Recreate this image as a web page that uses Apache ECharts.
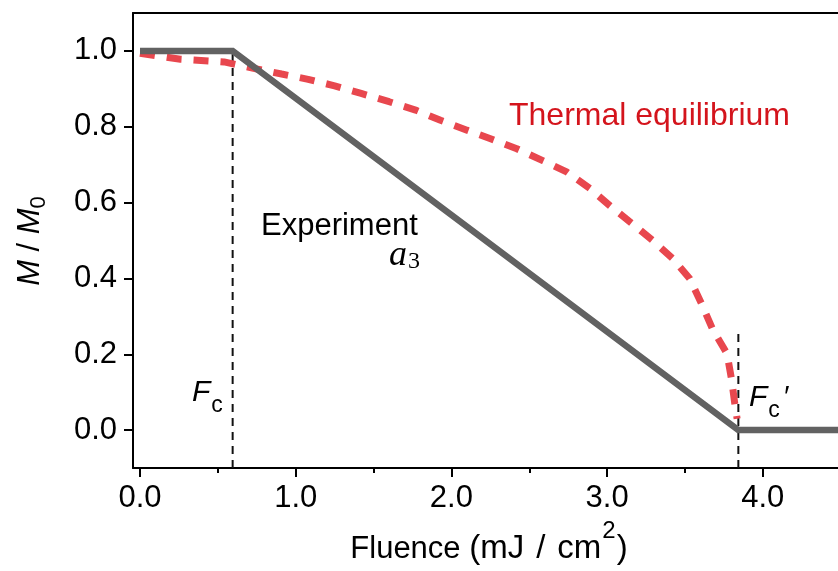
<!DOCTYPE html>
<html>
<head>
<meta charset="utf-8">
<script src="https://cdn.jsdelivr.net/npm/echarts@6/dist/echarts.min.js"></script>
<style>html,body{margin:0;padding:0;background:#fff}#c{width:838px;height:571px}</style>
</head>
<body>
<div id="c"></div>
<script>
// ---- data ----
const xMajorTicks = [0, 1, 2, 3, 4];
const xMinorTicks = [0.5, 1.5, 2.5, 3.5, 4.5];
const yTicks = [0, 0.2, 0.4, 0.6, 0.8, 1.0];
const Fc = 0.595;
const FcPrime = 3.843;
const FcPrimeTop = 0.26;
const experimentX = [0, Fc, FcPrime, 4.6];
const experimentY = [1.0, 1.0, 0.0, 0.0];
const thermalX = [0, 0.26, 0.54, 0.73, 0.91, 1.08, 1.25, 1.42, 1.6, 1.77, 1.93, 2.1, 2.26, 2.42, 2.59, 2.74, 2.89, 3.02, 3.16, 3.29, 3.42, 3.53, 3.61, 3.68, 3.77, 3.80, 3.82, 3.835];
const thermalY = [0.994, 0.978, 0.971, 0.954, 0.939, 0.925, 0.908, 0.888, 0.866, 0.844, 0.817, 0.791, 0.767, 0.742, 0.71, 0.681, 0.637, 0.591, 0.545, 0.501, 0.453, 0.40, 0.33, 0.264, 0.202, 0.132, 0.07, 0.03];

const XMIN = -0.045, XMAX = 4.483, YMIN = -0.1, YMAX = 1.1;
const FONT = '"Liberation Sans", Arial, Helvetica, sans-serif';
const SERIF = '"Liberation Serif", "DejaVu Serif", serif';

const zip = (a, b) => a.map((v, i) => [v, b[i]]);
const fmt = v => Number(v).toFixed(1);

const chart = echarts.init(document.getElementById('c'), null, {renderer: 'canvas'});
const axisLineStyle = {color: '#000', width: 2};

const option = {
  animation: false,
  backgroundColor: '#fff',
  grid: {left: 133, right: 0, top: 13, bottom: 103, containLabel: false},
  xAxis: [
    {
      type: 'value', min: XMIN, max: XMAX, position: 'bottom',
      axisLine: {show: true, onZero: false, lineStyle: axisLineStyle},
      axisTick: {show: true, customValues: xMajorTicks, length: 9, lineStyle: axisLineStyle},
      axisLabel: {show: true, customValues: xMajorTicks, formatter: fmt, fontSize: 31, fontFamily: FONT, color: '#000', margin: 15},
      splitLine: {show: false}
    },
    {
      type: 'value', min: XMIN, max: XMAX, position: 'bottom',
      axisLine: {show: false, onZero: false},
      axisTick: {show: true, customValues: xMinorTicks, length: 5, lineStyle: axisLineStyle},
      axisLabel: {show: false},
      splitLine: {show: false}
    },
    {
      type: 'value', min: XMIN, max: XMAX, position: 'top',
      axisLine: {show: true, onZero: false, lineStyle: axisLineStyle},
      axisTick: {show: false},
      axisLabel: {show: false},
      splitLine: {show: false}
    }
  ],
  yAxis: {
    type: 'value', min: YMIN, max: YMAX,
    axisLine: {show: true, onZero: false, lineStyle: axisLineStyle},
    axisTick: {show: true, customValues: yTicks, length: 9, lineStyle: axisLineStyle},
    axisLabel: {show: true, customValues: yTicks, formatter: fmt, fontSize: 31, fontFamily: FONT, color: '#000', margin: 16},
    splitLine: {show: false}
  },
  series: [
    {
      type: 'line', name: 'Fc', xAxisIndex: 0, symbol: 'none', z: 1,
      data: [[Fc, YMIN], [Fc, 1.0]],
      lineStyle: {color: '#111', width: 2, type: [8, 6]}
    },
    {
      type: 'line', name: 'FcPrime', xAxisIndex: 0, symbol: 'none', z: 1,
      data: [[FcPrime, YMIN], [FcPrime, FcPrimeTop]],
      lineStyle: {color: '#111', width: 2, type: [8, 6]}
    },
    {
      type: 'line', name: 'Experiment', xAxisIndex: 0, symbol: 'none', z: 3,
      data: zip(experimentX, experimentY),
      lineStyle: {color: '#626262', width: 6.5, cap: 'butt', join: 'miter'}
    },
    {
      type: 'line', name: 'Thermal equilibrium', xAxisIndex: 0, symbol: 'none', z: 2,
      data: zip(thermalX, thermalY),
      lineStyle: {color: '#e8474e', width: 7, type: [15, 12], cap: 'butt'}
    }
  ],
  graphic: [
    {
      type: 'text', x: 30, y: 241, rotation: Math.PI / 2, z: 10,
      style: {
        text: '{i|M} / {i|M}{s|0}',
        align: 'center', verticalAlign: 'middle',
        font: '31px ' + FONT, fill: '#000',
        rich: {
          i: {fontStyle: 'italic', fontSize: 31, fontFamily: FONT, lineHeight: 31, verticalAlign: 'middle'},
          s: {fontSize: 22, fontFamily: FONT, lineHeight: 22, padding: [18, 0, 0, 0], verticalAlign: 'middle'}
        }
      }
    },
    {
      type: 'text', x: 489, y: 549, z: 10,
      style: {
        text: 'Fluence {t|(mJ}{sl|/}{t|cm}{s|2}{t|)}',
        align: 'center', verticalAlign: 'middle',
        font: '31px ' + FONT, fill: '#000',
        rich: {
          t: {fontSize: 33, fontFamily: FONT, lineHeight: 33, verticalAlign: 'middle'},
          sl: {fontSize: 33, fontFamily: FONT, lineHeight: 33, padding: [0, 12, 0, 12], verticalAlign: 'middle'},
          s: {fontSize: 24, fontFamily: FONT, lineHeight: 24, padding: [0, 1, 35, 1], verticalAlign: 'middle'}
        }
      }
    },
    {
      type: 'text', x: 509, y: 116, z: 10,
      style: {text: 'Thermal equilibrium', align: 'left', verticalAlign: 'middle', font: '32px ' + FONT, fill: '#d4141c'}
    },
    {
      type: 'text', x: 261, y: 226, z: 10,
      style: {text: 'Experiment', align: 'left', verticalAlign: 'middle', font: '31px ' + FONT, fill: '#000'}
    },
    {
      type: 'text', x: 389, y: 256, z: 10,
      style: {
        text: '{a|a}{n|3}', align: 'left', verticalAlign: 'middle', font: '30px ' + SERIF, fill: '#000',
        rich: {
          a: {fontStyle: 'italic', fontSize: 36, fontFamily: SERIF, lineHeight: 32, verticalAlign: 'middle'},
          n: {fontSize: 24, fontFamily: SERIF, lineHeight: 24, padding: [12, 0, 0, 1], verticalAlign: 'middle'}
        }
      }
    },
    {
      type: 'text', x: 192, y: 393, z: 10,
      style: {
        text: '{f|F}{c|c}', align: 'left', verticalAlign: 'middle', font: '29px ' + FONT, fill: '#000',
        rich: {
          f: {fontStyle: 'italic', fontSize: 30, fontFamily: FONT, lineHeight: 30, verticalAlign: 'middle'},
          c: {fontSize: 23, fontFamily: FONT, lineHeight: 23, padding: [25, 0, 0, 1], verticalAlign: 'middle'}
        }
      }
    },
    {
      type: 'text', x: 749, y: 398, z: 10,
      style: {
        text: '{f|F}{c|c}{p|\u2032}', align: 'left', verticalAlign: 'middle', font: '29px ' + FONT, fill: '#000',
        rich: {
          f: {fontStyle: 'italic', fontSize: 30, fontFamily: FONT, lineHeight: 30, verticalAlign: 'middle'},
          c: {fontSize: 23, fontFamily: FONT, lineHeight: 23, padding: [25, 0, 0, 1], verticalAlign: 'middle'},
          p: {fontStyle: 'italic', fontSize: 29, fontFamily: FONT, lineHeight: 29, padding: [0, 0, 0, 3], verticalAlign: 'middle'}
        }
      }
    }
  ]
};
chart.setOption(option);
</script>
</body>
</html>
